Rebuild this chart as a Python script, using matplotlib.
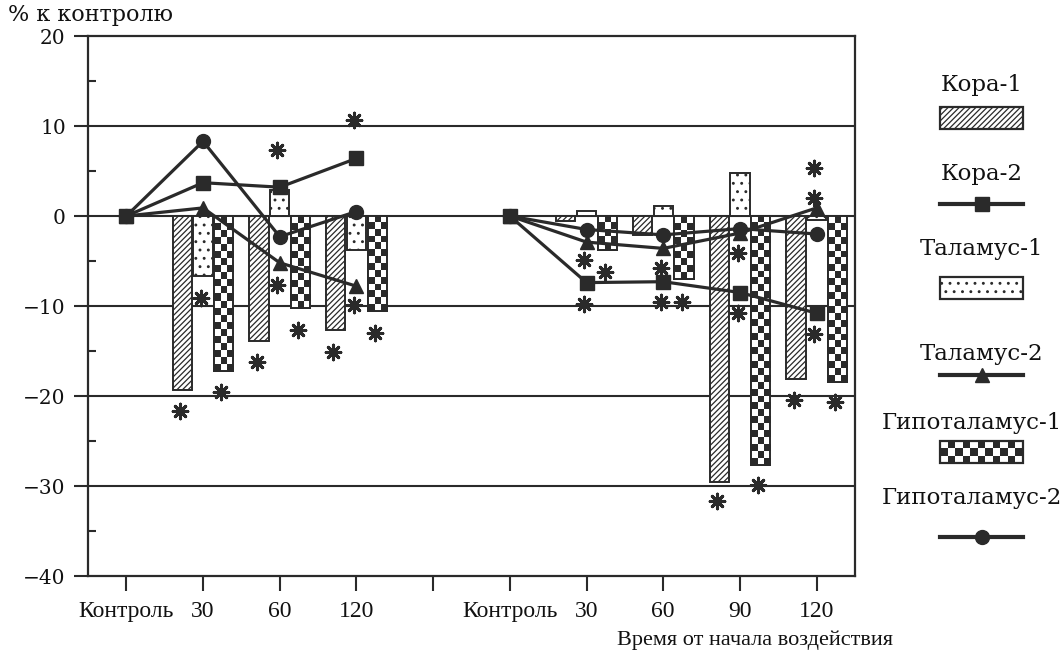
import numpy as np
import matplotlib
matplotlib.use("Agg")
import matplotlib.pyplot as plt
from matplotlib.patches import Rectangle
from matplotlib.lines import Line2D
from matplotlib.colors import ListedColormap
from matplotlib.ticker import MultipleLocator

nan = np.nan

# Time points: two experiment series separated by an empty slot
categories = ["Контроль", "30", "60", "120", "", "Контроль", "30", "60", "90", "120"]

# Bar series (% relative to control)
cortex_1 = [nan, -19.3, -13.9, -12.7, nan, nan, -0.5, -2.1, -29.5, -18.1]
thalamus_1 = [nan, -6.7, 2.9, -3.8, nan, nan, 0.6, 1.1, 4.8, -0.4]
hypothalamus_1 = [nan, -17.2, -10.2, -10.6, nan, nan, -3.8, -7.0, -27.7, -18.4]

# Line series (% relative to control)
cortex_2 = [0, 3.7, 3.2, 6.4, nan, 0, -7.4, -7.3, -8.5, -10.8]
thalamus_2 = [0, 0.9, -5.2, -7.8, nan, 0, -2.9, -3.6, -1.9, 0.9]
hypothalamus_2 = [0, 8.3, -2.3, 0.5, nan, 0, -1.5, -2.1, -1.4, -2.0]

# Significance marks: time-point index, bar column (-1, 0, 1), value
star_pos = [1, 1, 1, 2, 2, 2, 2, 3, 3, 3, 3,
            6, 6, 6, 7, 7, 7, 8, 8, 8, 8, 9, 9, 9, 9, 9]
star_col = [-1, 0, 1, -1, 0, 0, 1, -1, 0, 0, 1,
            0, 1, 0, 0, 0, 1, 0, 0, 1, -1, 0, 0, 0, -1, 1]
star_val = [-21.7, -9.1, -19.5, -16.2, 7.3, -7.7, -12.7, -15.1, 10.7, -9.9, -13.0,
            -4.9, -6.2, -9.8, -5.8, -9.6, -9.6, -4.1, -10.8, -29.9, -31.7,
            5.3, 2.0, -13.1, -20.4, -20.7]

yticks = [20, 10, 0, -10, -20, -30, -40]
ytick_labels = ["20", "10", "0", "\u221210", "\u221220", "\u221230", "\u221240"]

INK = "#2a2a2a"
SERIF = ["DejaVu Serif"]
NARROW = ["Liberation Serif"]
plt.rcParams["hatch.linewidth"] = 0.9
CHECK_CMAP = ListedColormap(["white", INK])

W, H = 1064, 655
fig = plt.figure(figsize=(W / 100, H / 100), dpi=100)
ax = fig.add_axes([88 / W, 1 - 576 / H, (855 - 88) / W, (576 - 36) / H])

x = np.arange(len(categories))
bw, off = 0.25, 0.27


def checker(rows, cols):
    return (np.indices((rows, cols)).sum(axis=0) % 2).astype(float)


b1 = ax.bar(x - off, cortex_1, bw, facecolor="white", edgecolor=INK,
            linewidth=1.4, hatch="//////", zorder=3)
b2 = ax.bar(x, thalamus_1, bw, facecolor="white", edgecolor=INK,
            linewidth=1.4, hatch="..", zorder=3)
b3 = ax.bar(x + off, hypothalamus_1, bw, facecolor="white", edgecolor=INK,
            linewidth=1.4, zorder=3)

# checkerboard fill for the hypothalamus bars
for p in b3.patches:
    h = p.get_height()
    if not np.isfinite(h) or h == 0:
        continue
    x0, y0 = p.get_x(), p.get_y()
    rows = max(1, int(round(abs(h) / 0.78)))
    im = ax.imshow(checker(rows, 3), cmap=CHECK_CMAP, vmin=0, vmax=1,
                   extent=(x0, x0 + p.get_width(), y0 + h, y0),
                   interpolation="nearest", aspect="auto", zorder=3.1)
    im.set_clip_path(p)
    ax.add_patch(Rectangle((x0, y0), p.get_width(), h, fill=False,
                           edgecolor=INK, linewidth=1.4, zorder=3.2))

line_kw = dict(color=INK, linewidth=2.3, zorder=5)
ax.plot(x, thalamus_2, marker="^", markersize=10, **line_kw)
ax.plot(x, hypothalamus_2, marker="o", markersize=10, **line_kw)
ax.plot(x, cortex_2, marker="s", markersize=10, **line_kw)

sx = np.array(star_pos) + np.array(star_col) * off - 0.03
ax.scatter(sx, star_val, marker=(8, 2, 0), s=110, color=INK,
           linewidths=2.2, zorder=6)

ax.set_xlim(-0.5, 9.5)
ax.set_ylim(-40, 20)
ax.set_yticks(yticks)
ax.set_yticklabels(ytick_labels, family=SERIF, fontsize=14.5, color="#111")
ax.yaxis.set_minor_locator(MultipleLocator(5))
ax.tick_params(axis="y", which="major", direction="out", length=10,
               width=1.5, color=INK, pad=6)
ax.tick_params(axis="y", which="minor", direction="in", length=6,
               width=1.5, color=INK)
ax.set_xticks(x)
ax.set_xticklabels(categories, family=NARROW, fontsize=17, color="#111")
ax.tick_params(axis="x", direction="out", length=11, width=1.5, color=INK,
               pad=7)
for yv in [10, 0, -10, -20, -30]:
    ax.axhline(yv, color=INK, linewidth=1.5, zorder=1)
for s in ax.spines.values():
    s.set_color(INK)
    s.set_linewidth(1.6)

fig.text(8 / W, 1 - 15 / H, "% к контролю", family=SERIF, fontsize=16,
         ha="left", va="center", color="#111")
fig.text(755 / W, 1 - 640 / H, "Время от начала воздействия", family=NARROW,
         fontsize=16, ha="center", va="center", color="#111")

# legend drawn in pixel coordinates on an overlay axes
lax = fig.add_axes([0, 0, 1, 1], facecolor="none")
lax.set_axis_off()
cx, lx0, lx1 = 982, 940, 1023
labels = ["Кора-1", "Кора-2", "Таламус-1", "Таламус-2", "Гипоталамус-1", "Гипоталамус-2"]
label_y = [85, 174, 249, 354, 423, 498]
handle_y = [118, 204, 288, 375, 452, 537]
for lab, ty in zip(labels, label_y):
    if len(lab) > 10:
        lax.text(W - 2, ty, lab, family=SERIF, fontsize=16.5, ha="right",
                 va="center", color="#111")
    else:
        lax.text(cx, ty, lab, family=SERIF, fontsize=16.5, ha="center",
                 va="center", color="#111")
lax.add_patch(Rectangle((lx0, handle_y[0] - 11), lx1 - lx0, 22, facecolor="white",
                        edgecolor=INK, linewidth=1.6, hatch="//////"))
lax.add_patch(Rectangle((lx0, handle_y[2] - 11), lx1 - lx0, 22, facecolor="white",
                        edgecolor=INK, linewidth=1.6, hatch=".."))
lax.imshow(checker(3, 11), cmap=CHECK_CMAP, vmin=0, vmax=1, interpolation="nearest",
           extent=(lx0, lx1, handle_y[4] + 11, handle_y[4] - 11), aspect="auto")
lax.add_patch(Rectangle((lx0, handle_y[4] - 11), lx1 - lx0, 22, fill=False,
                        edgecolor=INK, linewidth=1.6))
for hy, mk in zip([handle_y[1], handle_y[3], handle_y[5]], ["s", "^", "o"]):
    lax.add_line(Line2D([lx0, lx1], [hy, hy], color=INK, linewidth=3))
    lax.add_line(Line2D([cx], [hy], marker=mk, markersize=10, color=INK))
lax.set_xlim(0, W)
lax.set_ylim(H, 0)

fig.savefig("out.png", dpi=100)
